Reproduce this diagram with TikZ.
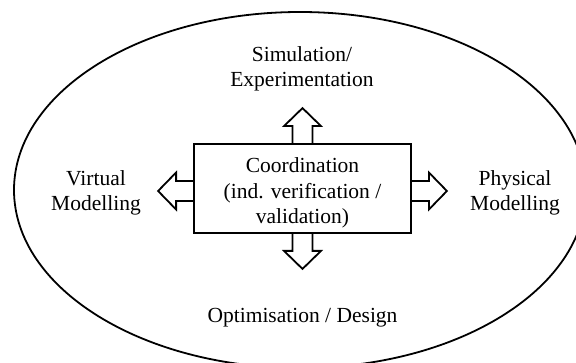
\documentclass[tikz,border=0pt]{standalone}
\usepackage{fontspec}
\setmainfont{Liberation Serif}
\begin{document}
\begin{tikzpicture}[x=1pt,y=-1pt,
  lbl/.style={align=center, font=\fontsize{21.5}{25.6}\selectfont, inner sep=0pt, anchor=base},
  boxst/.style={draw, line width=1.8pt, minimum width=217pt, minimum height=89pt, inner sep=0pt},
  blk/.style={draw, line width=1.8pt, line join=miter},
  ring/.style={draw, line width=1.8pt}]
\useasboundingbox (0,0) rectangle (576,363);
\begin{scope}
\clip (0,0) rectangle (576,363);
\draw[ring] (300,190) ellipse [x radius=286, y radius=178];
\end{scope}
\node[boxst] (bx) at (302.5,188.5) {};
\node[lbl] (coord) at (302.5,224) {Coordination\\(ind. verification /\\validation)};
% block arrows
\draw[blk] ([xshift=-10pt]bx.north) -- ++(0,-17) -- ++(-8.5,0) -- ++(18.5,-18) -- ++(18.5,18) -- ++(-8.5,0) -- ++(0,17);
\draw[blk] ([xshift=-10pt]bx.south) -- ++(0,17) -- ++(-8.5,0) -- ++(18.5,18) -- ++(18.5,-18) -- ++(-8.5,0) -- ++(0,-17);
\draw[blk] ([yshift=7.5pt]bx.west) -- ++(-17,0) -- ++(0,-8.5) -- ++(-18,18.5) -- ++(18,18.5) -- ++(0,-8.5) -- ++(17,0);
\draw[blk] ([yshift=7.5pt]bx.east) -- ++(17,0) -- ++(0,-8.5) -- ++(18,18.5) -- ++(-18,18.5) -- ++(0,-8.5) -- ++(-17,0);
% labels
\node[lbl] (sim) at (302,87) {Simulation/\\Experimentation};
\node[lbl] (virt) at (96,211) {Virtual\\Modelling};
\node[lbl] (phys) at (515,211) {Physical\\Modelling};
\node[lbl] (opt) at (302.5,323) {Optimisation / Design};
\end{tikzpicture}
\end{document}
